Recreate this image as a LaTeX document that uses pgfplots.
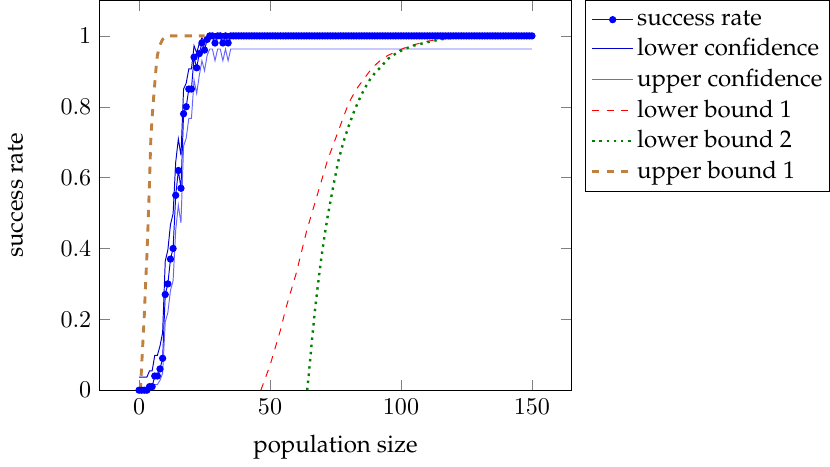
\documentclass[border=0pt]{standalone}
\usepackage[T1]{fontenc}
\renewcommand{\rmdefault}{ppl}
\usepackage{pgfplots}
\usepackage{pgfplotstable}
\pgfplotsset{compat=1.18}

% x = population size, p = success rate, lo/hi = confidence limits
\pgfplotstableread{
x p lo hi
0 0 0 0.037
1 0 0 0.037
2 0 0 0.037
3 0 0 0.037
4 0.01 0.0018 0.0545
5 0.01 0.0018 0.0545
6 0.04 0.0157 0.0984
7 0.04 0.0157 0.0984
8 0.06 0.0278 0.1248
9 0.09 0.0481 0.1623
10 0.27 0.1927 0.3643
11 0.30 0.2189 0.3959
12 0.37 0.2818 0.4678
13 0.40 0.3094 0.4980
14 0.55 0.4524 0.6439
15 0.62 0.5221 0.7090
16 0.57 0.4722 0.6627
17 0.78 0.6893 0.8500
18 0.80 0.7112 0.8666
19 0.85 0.7672 0.9069
20 0.85 0.7672 0.9069
21 0.94 0.8752 0.9722
22 0.91 0.8377 0.9519
23 0.95 0.8882 0.9785
24 0.98 0.9300 0.9945
25 0.96 0.9016 0.9843
26 0.99 0.9455 0.9982
27 1 0.963 1
28 1 0.963 1
29 0.98 0.9300 0.9945
30 1 0.963 1
31 1 0.963 1
32 0.98 0.9300 0.9945
33 1 0.963 1
34 0.98 0.9300 0.9945
35 1 0.963 1
36 1 0.963 1
37 1 0.963 1
38 1 0.963 1
39 1 0.963 1
40 1 0.963 1
41 1 0.963 1
42 1 0.963 1
43 1 0.963 1
44 1 0.963 1
45 1 0.963 1
46 1 0.963 1
47 1 0.963 1
48 1 0.963 1
49 1 0.963 1
50 1 0.963 1
51 1 0.963 1
52 1 0.963 1
53 1 0.963 1
54 1 0.963 1
55 1 0.963 1
56 1 0.963 1
57 1 0.963 1
58 1 0.963 1
59 1 0.963 1
60 1 0.963 1
61 1 0.963 1
62 1 0.963 1
63 1 0.963 1
64 1 0.963 1
65 1 0.963 1
66 1 0.963 1
67 1 0.963 1
68 1 0.963 1
69 1 0.963 1
70 1 0.963 1
71 1 0.963 1
72 1 0.963 1
73 1 0.963 1
74 1 0.963 1
75 1 0.963 1
76 1 0.963 1
77 1 0.963 1
78 1 0.963 1
79 1 0.963 1
80 1 0.963 1
81 1 0.963 1
82 1 0.963 1
83 1 0.963 1
84 1 0.963 1
85 1 0.963 1
86 1 0.963 1
87 1 0.963 1
88 1 0.963 1
89 1 0.963 1
90 1 0.963 1
91 1 0.963 1
92 1 0.963 1
93 1 0.963 1
94 1 0.963 1
95 1 0.963 1
96 1 0.963 1
97 1 0.963 1
98 1 0.963 1
99 1 0.963 1
100 1 0.963 1
101 1 0.963 1
102 1 0.963 1
103 1 0.963 1
104 1 0.963 1
105 1 0.963 1
106 1 0.963 1
107 1 0.963 1
108 1 0.963 1
109 1 0.963 1
110 1 0.963 1
111 1 0.963 1
112 1 0.963 1
113 1 0.963 1
114 1 0.963 1
115 1 0.963 1
116 1 0.963 1
117 1 0.963 1
118 1 0.963 1
119 1 0.963 1
120 1 0.963 1
121 1 0.963 1
122 1 0.963 1
123 1 0.963 1
124 1 0.963 1
125 1 0.963 1
126 1 0.963 1
127 1 0.963 1
128 1 0.963 1
129 1 0.963 1
130 1 0.963 1
131 1 0.963 1
132 1 0.963 1
133 1 0.963 1
134 1 0.963 1
135 1 0.963 1
136 1 0.963 1
137 1 0.963 1
138 1 0.963 1
139 1 0.963 1
140 1 0.963 1
141 1 0.963 1
142 1 0.963 1
143 1 0.963 1
144 1 0.963 1
145 1 0.963 1
146 1 0.963 1
147 1 0.963 1
148 1 0.963 1
149 1 0.963 1
150 1 0.963 1
}\succtab

\begin{document}
\begin{tikzpicture}
  \begin{axis}[
    width=196pt, height=162pt, scale only axis,
    xmin=-15, xmax=165, ymin=0, ymax=1.1,
    xtick={0,50,100,150},
    ytick={0,0.2,0.4,0.6,0.8,1},
    xlabel={population size},
    ylabel={success rate},
    every axis x label/.style={at={(axis description cs:0.5,0)}, anchor=north, yshift=-15pt},
    every axis y label/.style={at={(axis description cs:0,0.5)}, xshift=-35pt, rotate=90},
    legend pos=outer north east,
    legend cell align=left,
    legend style={inner xsep=2pt, nodes={inner xsep=1pt}},
  ]
    \addplot[color=blue, mark=*, mark size=1.3pt] table[x=x, y=p] {\succtab};
    \addplot[color=blue!80!black] table[x=x, y=hi] {\succtab};
    \addplot[color=blue!60] table[x=x, y=lo] {\succtab};
    \addplot[color=red, dashed] coordinates {
      (46.5,0) (48,0.03) (50,0.07) (52,0.12) (54,0.17) (56,0.23) (58,0.28)
      (60,0.33) (62,0.39) (64,0.45) (66,0.50) (68,0.55) (70,0.60) (72,0.65)
      (74,0.69) (76,0.73) (78,0.77) (80,0.81) (83,0.85) (86,0.88) (89,0.91)
      (92,0.93) (95,0.945) (98,0.955) (101,0.965) (105,0.975) (110,0.985)
      (115,0.99) (120,0.995) (125,1) (150,1)
    };
    \addplot[color=green!50!black, dotted, line width=1pt] coordinates {
      (64.2,0) (65,0.06) (66,0.14) (67,0.215) (68,0.28) (69,0.34) (70,0.395)
      (71,0.445) (72,0.49) (73,0.53) (74,0.57) (76,0.645) (78,0.70) (80,0.745)
      (82,0.785) (84,0.82) (86,0.85) (88,0.875) (90,0.895) (92,0.91) (95,0.935)
      (98,0.95) (101,0.962) (105,0.973) (110,0.982) (115,0.99) (120,0.995)
      (125,1) (150,1)
    };
    \addplot[color=brown, dashed, very thick] coordinates {
      (0.5,0) (1,0.07) (1.5,0.14) (2,0.21) (2.5,0.30) (3,0.38) (3.5,0.48)
      (4,0.59) (4.5,0.71) (5,0.77) (5.5,0.82) (6,0.865) (6.5,0.91) (7,0.945)
      (8,0.975) (9,0.99) (10,0.997) (11,1) (25,1)
    };
    \legend{success rate, lower confidence, upper confidence,
      lower bound 1, lower bound 2, upper bound 1}
  \end{axis}
\end{tikzpicture}
\end{document}
